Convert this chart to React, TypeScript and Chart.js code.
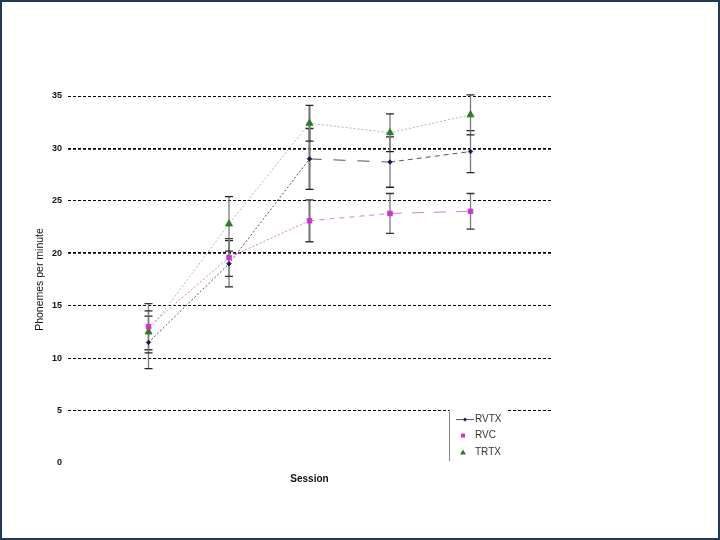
import React, { useEffect, useRef } from "react";
import { Chart, registerables } from "chart.js";

Chart.register(...registerables);

const sessions = [1, 2, 3, 4, 5];
const yTicks = [0, 5, 10, 15, 20, 25, 30, 35];
const rvtxValues = [11.5, 19.0, 29.0, 28.7, 29.7];
const rvtxErrors = [2.5, 2.2, 2.9, 2.4, 2.0];
const rvcValues = [13.0, 19.6, 23.1, 23.8, 24.0];
const rvcErrors = [2.2, 1.8, 2.0, 1.9, 1.7];
const trtxValues = [12.5, 22.8, 32.4, 31.5, 33.2];
const trtxErrors = [2.0, 2.6, 1.7, 1.8, 1.9];
const seriesNames = ["RVTX", "RVC", "TRTX"];

const errorBarPlugin = {
  id: "errorBars",
  beforeDatasetsDraw(chart: any) {
    const { ctx, scales } = chart;
    const xs = scales.x;
    const ys = scales.y;
    const errs = [rvtxErrors, rvcErrors, trtxErrors];
    ctx.save();
    chart.data.datasets.forEach((ds: any, di: number) => {
      ds.data.forEach((pt: any, i: number) => {
        const e = errs[di][i];
        const x = xs.getPixelForValue(pt.x);
        const yt = ys.getPixelForValue(pt.y + e);
        const yb = ys.getPixelForValue(pt.y - e);
        ctx.strokeStyle = "#7a7a7a";
        ctx.lineWidth = i === 2 ? 2.2 : 1.3;
        ctx.beginPath();
        ctx.moveTo(x, yt);
        ctx.lineTo(x, yb);
        ctx.stroke();
        ctx.strokeStyle = di === 1 ? "#333" : "#222";
        ctx.lineWidth = 1.3;
        ctx.beginPath();
        ctx.moveTo(x - 4, yt);
        ctx.lineTo(x + 4, yt);
        ctx.moveTo(x - 4, yb);
        ctx.lineTo(x + 4, yb);
        ctx.stroke();
      });
    });
    ctx.restore();
  },
};

const legendPlugin = {
  id: "boxLegend",
  afterDraw(chart: any) {
    const { ctx, chartArea, scales } = chart;
    const left = chartArea.right - 102;
    const top = scales.y.getPixelForValue(5) - 1;
    const bottom = chartArea.bottom - 2;
    ctx.save();
    ctx.fillStyle = "#fff";
    ctx.fillRect(left, top - 1, 57, bottom - top + 2);
    ctx.strokeStyle = "#888";
    ctx.lineWidth = 1;
    ctx.beginPath();
    ctx.moveTo(left + 0.5, top);
    ctx.lineTo(left + 0.5, bottom);
    ctx.stroke();
    const rows = [top + 10, top + 26, top + 43];
    const sx = left + 14;
    // RVTX
    ctx.strokeStyle = "#556";
    ctx.beginPath();
    ctx.moveTo(sx - 7, rows[0]);
    ctx.lineTo(sx + 11, rows[0]);
    ctx.stroke();
    ctx.fillStyle = "#1a1a5a";
    ctx.beginPath();
    ctx.moveTo(sx + 2, rows[0] - 2);
    ctx.lineTo(sx + 4, rows[0]);
    ctx.lineTo(sx + 2, rows[0] + 2);
    ctx.lineTo(sx, rows[0]);
    ctx.closePath();
    ctx.fill();
    // RVC
    ctx.fillStyle = "#cc33cc";
    ctx.fillRect(sx - 2, rows[1] - 2, 4, 4);
    // TRTX
    ctx.fillStyle = "#2d7a2d";
    ctx.beginPath();
    ctx.moveTo(sx, rows[2] - 3);
    ctx.lineTo(sx + 3, rows[2] + 2);
    ctx.lineTo(sx - 3, rows[2] + 2);
    ctx.closePath();
    ctx.fill();
    ctx.fillStyle = "#333";
    ctx.font = "10px 'Liberation Sans', Arial, sans-serif";
    ctx.textBaseline = "middle";
    ctx.textAlign = "left";
    seriesNames.forEach((n, i) => ctx.fillText(n, left + 26, rows[i]));
    ctx.restore();
  },
};

const toPts = (vals: number[]) => vals.map((v, i) => ({ x: sessions[i], y: v }));

export default function App() {
  const ref = useRef<HTMLCanvasElement | null>(null);
  useEffect(() => {
    if (!ref.current) return;
    const chart = new Chart(ref.current, {
      type: "line",
      data: {
        datasets: [
          {
            label: seriesNames[0],
            data: toPts(rvtxValues),
            borderColor: "#555",
            borderWidth: 1,
            pointStyle: "rectRot",
            pointRadius: 2.2,
            pointBackgroundColor: "#1a1a5a",
            pointBorderColor: "#1a1a5a",
            segment: {
              borderDash: (c: any) =>
                c.p0DataIndex < 2 ? [2, 2] : c.p0DataIndex === 2 ? [12, 12] : [5, 4],
            },
          },
          {
            label: seriesNames[1],
            data: toPts(rvcValues),
            borderColor: "#d080d0",
            borderWidth: 1,
            pointStyle: "rect",
            pointRadius: 3.2,
            pointBackgroundColor: "#cc33cc",
            pointBorderColor: "#cc33cc",
            segment: {
              borderDash: (c: any) =>
                c.p0DataIndex < 2 ? [2, 2] : c.p0DataIndex === 2 ? [5, 5] : [12, 10],
            },
          },
          {
            label: seriesNames[2],
            data: toPts(trtxValues),
            borderColor: "#a8bca8",
            borderWidth: 1,
            borderDash: [2, 2],
            pointStyle: "triangle",
            pointRadius: 4,
            pointBackgroundColor: "#2d7a2d",
            pointBorderColor: "#2d7a2d",
          },
        ],
      },
      options: {
        responsive: false,
        animation: false,
        layout: { padding: { top: 96, right: 169, left: 0, bottom: 0 } },
        plugins: { legend: { display: false }, tooltip: { enabled: false } },
        scales: {
          x: {
            type: "linear",
            min: 0,
            max: 6,
            ticks: { display: false },
            grid: { display: false },
            border: { display: false },
            afterFit: (s: any) => {
              s.height = 77;
            },
            title: {
              display: true,
              text: "Session",
              color: "#111",
              font: { family: "'Liberation Sans', Arial, sans-serif", size: 10, weight: "bold" },
              padding: { top: 0, bottom: 55 },
            },
          },
          y: {
            min: 0,
            max: 35,
            afterBuildTicks: (s: any) => {
              s.ticks = yTicks.map((v) => ({ value: v }));
            },
            afterFit: (s: any) => {
              s.width = 68;
            },
            ticks: {
              padding: 6,
              color: "#111",
              font: { family: "'Liberation Sans Narrow', 'Liberation Sans', Arial, sans-serif", size: 9, weight: "bold" },
            },
            grid: {
              drawTicks: false,
              color: (c: any) => (c.tick && c.tick.value === 0 ? "rgba(0,0,0,0)" : "#000"),
              lineWidth: (c: any) =>
                c.tick && (c.tick.value === 30 || c.tick.value === 20) ? 1.8 : 1,
              borderDash: [3, 2],
            } as any,
            border: { display: false, dash: [3, 2] },
            title: {
              display: true,
              text: "Phonemes per minute",
              color: "#111",
              font: { family: "'Liberation Sans', Arial, sans-serif", size: 10.5 },
              padding: { top: 34, bottom: 0 },
            },
          },
        },
      },
      plugins: [errorBarPlugin, legendPlugin],
    } as any);
    return () => chart.destroy();
  }, []);
  return (
    <div style={{ position: "fixed", left: 0, top: 0, width: 720, height: 540, background: "#fff" }}>
      <canvas ref={ref} width={720} height={540} style={{ position: "absolute", left: 0, top: 0 }} />
      <div
        style={{
          position: "absolute",
          left: 0,
          top: 0,
          width: 720,
          height: 540,
          boxSizing: "border-box",
          border: "2px solid #1f3a56",
          pointerEvents: "none",
        }}
      />
    </div>
  );
}
